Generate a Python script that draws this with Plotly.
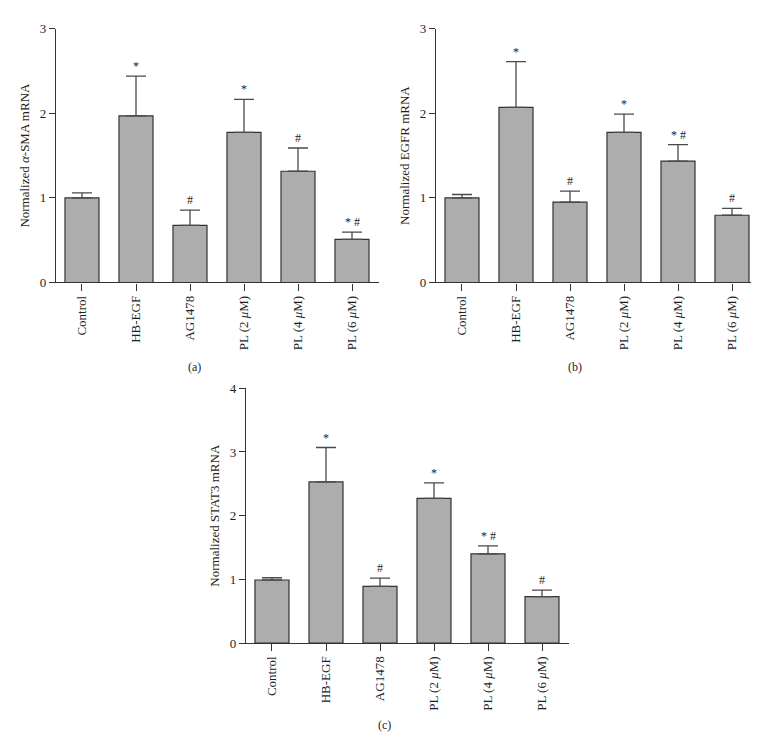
import plotly.graph_objects as go

W, H = 759, 741

# -- groups (x labels)
groups = ['Control', 'HB-EGF', 'AG1478',
          'PL (2 <i>μ</i>M)', 'PL (4 <i>μ</i>M)', 'PL (6 <i>μ</i>M)']

# -- (a) alpha-SMA
sma_mean = [1.00, 1.97, 0.675, 1.775, 1.315, 0.51]
sma_err = [0.06, 0.47, 0.18, 0.39, 0.275, 0.085]
sma_sig = ['', '*', '#', '*', '#', '* #']

# -- (b) EGFR
egfr_mean = [1.00, 2.07, 0.95, 1.775, 1.435, 0.795]
egfr_err = [0.04, 0.54, 0.13, 0.215, 0.195, 0.08]
egfr_sig = ['', '*', '#', '*', '* #', '#']

# -- (c) STAT3
stat3_mean = [0.99, 2.53, 0.89, 2.27, 1.40, 0.73]
stat3_err = [0.035, 0.54, 0.13, 0.245, 0.125, 0.10]
stat3_sig = ['', '*', '#', '*', '* #', '#']

FONT = 'Liberation Serif'
BAR = '#adadad'
EDGE = '#333333'
TXT = '#1e1e1e'

# panel layout in pixels: (x left of x-axis, y-axis x, top px, bottom px)
panels = [
    dict(mean=sma_mean, err=sma_err, sig=sma_sig, ymax=3,
         ytitle='Normalized <i>α</i>-SMA mRNA', cap='(a)',
         x0=41, yax=47, top=14, bot=273, capxy=(186, 359)),
    dict(mean=egfr_mean, err=egfr_err, sig=egfr_sig, ymax=3,
         ytitle='Normalized EGFR mRNA', cap='(b)',
         x0=421, yax=427, top=14, bot=273, capxy=(567, 359)),
    dict(mean=stat3_mean, err=stat3_err, sig=stat3_sig, ymax=4,
         ytitle='Normalized STAT3 mRNA', cap='(c)',
         x0=231, yax=237, top=381, bot=641, capxy=(376, 725)),
]

fig = go.Figure()
layout = {}
annotations = []

for i, p in enumerate(panels):
    n = '' if i == 0 else str(i + 1)
    xa, ya = 'x' + n, 'y' + n

    fig.add_trace(go.Bar(
        x=groups, y=p['mean'], xaxis=xa, yaxis=ya, width=0.63,
        marker=dict(color=BAR, line=dict(color=EDGE, width=1.2)),
        error_y=dict(type='data', array=p['err'], symmetric=False,
                     arrayminus=[0] * len(p['err']),
                     color='#4a4a4a', thickness=1.3, width=10),
        showlegend=False))

    for g, m, e, s in zip(groups, p['mean'], p['err'], p['sig']):
        if s:
            annotations.append(dict(
                x=g, y=m + e, xref=xa, yref=ya, text=s,
                showarrow=False, yanchor='bottom', yshift=1,
                font=dict(family=FONT, size=12, color=TXT)))

    # x-axis: 54 px per category, 330 px long
    layout['xaxis' + n] = dict(
        domain=[p['x0'] / W, (p['x0'] + 330) / W], anchor=ya,
        range=[-0.611, 5.5], showline=True, linecolor='#333', linewidth=1.3,
        ticks='outside', ticklen=7, tickcolor='#333', tickwidth=1.3,
        tickangle=-90, showgrid=False, zeroline=False,
        tickfont=dict(family=FONT, size=13, color=TXT))
    layout['yaxis' + n] = dict(
        domain=[1 - p['bot'] / H, 1 - p['top'] / H], anchor='free',
        position=p['yax'] / W, range=[0, p['ymax']], dtick=1,
        showline=True, linecolor='#333', linewidth=1.3,
        ticks='outside', ticklen=6, tickcolor='#333', tickwidth=1.3,
        showgrid=False, zeroline=False,
        tickfont=dict(family=FONT, size=13, color=TXT),
        title=dict(text=p['ytitle'], standoff=6,
                   font=dict(family=FONT, size=13, color=TXT)))

    annotations.append(dict(
        x=p['capxy'][0] / W, y=1 - p['capxy'][1] / H, xref='paper', yref='paper',
        text=p['cap'], showarrow=False, xanchor='center', yanchor='middle',
        font=dict(family=FONT, size=12, color=TXT)))

fig.update_layout(
    width=W, height=H, margin=dict(l=0, r=0, t=0, b=0),
    paper_bgcolor='white', plot_bgcolor='white',
    bargap=0.37, annotations=annotations, **layout)

fig.write_html("out.html")
